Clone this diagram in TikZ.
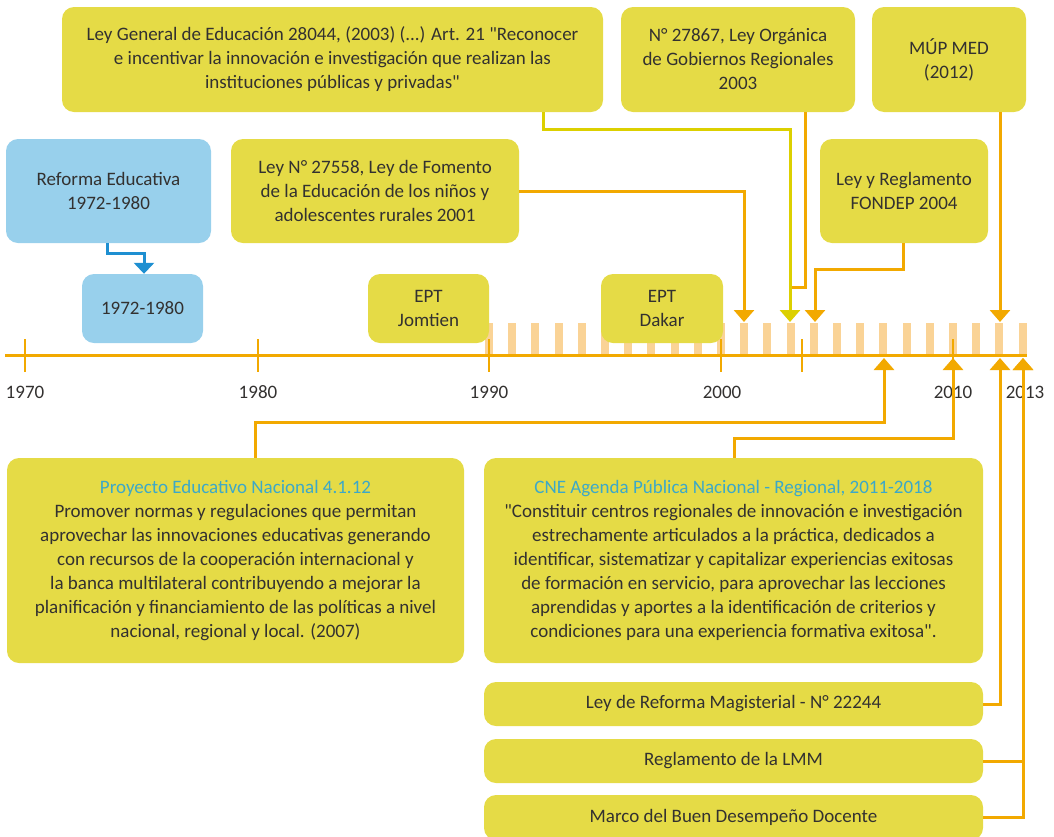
\documentclass[tikz,border=0pt]{standalone}
\usepackage{fontspec}
\setmainfont{Carlito}[Ligatures=TeXOff]
\usetikzlibrary{arrows.meta}
\definecolor{boxy}{HTML}{E5DB46}
\definecolor{boxb}{HTML}{98D0EC}
\definecolor{orl}{HTML}{F2A900}
\definecolor{yel}{HTML}{DCD000}
\definecolor{strp}{HTML}{FAD396}
\definecolor{barr}{HTML}{1E8FD1}
\definecolor{teal}{HTML}{3CA8C8}
\definecolor{txt}{HTML}{333130}
\newcommand\mytxtfont{\fontsize{19}{24}\selectfont}
\begin{document}
\begin{tikzpicture}[x=1pt,y=-1pt,
  box/.style={rounded corners=12pt, fill=boxy, align=center, inner sep=0pt, text=txt, font=\mytxtfont},
  bbox/.style={box, fill=boxb},
  yr/.style={text=txt, font=\mytxtfont, inner sep=0pt},
  axisline/.style={draw=orl, line width=3pt},
  tickline/.style={draw=orl, line width=2.5pt},
  oarr/.style={draw=orl, line width=3pt, -{Triangle[width=20pt,length=12pt]}},
  oconn/.style={draw=orl, line width=3pt},
  yarr/.style={draw=yel, line width=3pt, -{Triangle[width=20pt,length=12pt]}},
  barrow/.style={draw=barr, line width=3pt, -{Triangle[width=20pt,length=11pt]}}]
\useasboundingbox (0,0) rectangle (1054,836);
% stripes
\foreach \yy in {1990,...,2013}{
  \fill[strp] ({25+(\yy-1970)*23.2-4},323) rectangle ({25+(\yy-1970)*23.2+4},355);
}
% axis
\draw[axisline] (5,355) -- (1027,355);
\foreach \xx in {25,258,489,721,802,953}{
  \draw[tickline] (\xx,339) -- (\xx,372);
}
\node[yr] (y1970) at (25,392) {1970};
\node[yr] (y1980) at (258,392) {1980};
\node[yr] (y1990) at (489,392) {1990};
\node[yr] (y2000) at (722,392) {2000};
\node[yr] (y2010) at (953,392) {2010};
\node[yr] (y2013) at (1025,392) {2013};
% boxes
\node[box, minimum width=541pt, minimum height=105pt] (lge) at (332.5,59.5)
  {Ley General de Educación 28044, (2003) (...) Art. 21 "Reconocer\\ e incentivar la innovación e investigación que realizan las\\ instituciones públicas y privadas"};
\node[box, minimum width=234pt, minimum height=105pt] (b27867) at (738,59.5)
  {N° 27867, Ley Orgánica\\ de Gobiernos Regionales\\ 2003};
\node[box, minimum width=154pt, minimum height=105pt] (bmup) at (949,59.5)
  {MÚP MED\\ (2012)};
\node[bbox, minimum width=205pt, minimum height=104pt] (bref) at (108.5,191)
  {Reforma Educativa\\ 1972-1980};
\node[box, minimum width=288pt, minimum height=104pt] (b27558) at (375,191)
  {Ley N° 27558, Ley de Fomento\\ de la Educación de los niños y\\ adolescentes rurales 2001};
\node[box, minimum width=168pt, minimum height=104pt] (bfondep) at (904,191)
  {Ley y Reglamento\\ FONDEP 2004};
\node[bbox, minimum width=121pt, minimum height=69pt] (bsmall) at (142.5,308.5)
  {1972-1980};
\node[box, minimum width=121pt, minimum height=69pt] (bjom) at (428.5,308.5)
  {EPT\\ Jomtien};
\node[box, minimum width=122pt, minimum height=69pt] (bdak) at (662,308.5)
  {EPT\\ Dakar};
\node[box, minimum width=457pt, minimum height=205pt] (bpen) at (235.5,560.5)
  {\textcolor{teal}{Proyecto Educativo Nacional 4.1.12}\\ Promover normas y regulaciones que permitan\\ aprovechar las innovaciones educativas generando\\ con recursos de la cooperación internacional y\\ la banca multilateral contribuyendo a mejorar la\\ planificación y financiamiento de las políticas a nivel\\ nacional, regional y local. (2007)};
\node[box, minimum width=499pt, minimum height=205pt] (bcne) at (733.5,560.5)
  {\textcolor{teal}{CNE Agenda Pública Nacional - Regional, 2011-2018}\\ "Constituir centros regionales de innovación e investigación\\ estrechamente articulados a la práctica, dedicados a\\ identificar, sistematizar y capitalizar experiencias exitosas\\ de formación en servicio, para aprovechar las lecciones\\ aprendidas y aportes a la identificación de criterios y\\ condiciones para una experiencia formativa exitosa".};
\node[box, minimum width=499pt, minimum height=44pt] (bley) at (733.5,704)
  {Ley de Reforma Magisterial - N° 22244};
\node[box, minimum width=499pt, minimum height=44pt] (breg) at (733.5,761)
  {Reglamento de la LMM};
\node[box, minimum width=499pt, minimum height=45pt] (bmarco) at (733.5,817.5)
  {Marco del Buen Desempeño Docente};
% arrow targets
\coordinate (t2001) at (744,322);
\coordinate (t2003) at (790,322);
\coordinate (t2004) at (815,322);
\coordinate (t2012) at (1000,322);
\coordinate (j2003) at (790,287);
\coordinate (u2007) at (884,358);
\coordinate (u2010) at (953,358);
\coordinate (u2012) at (1000,358);
\coordinate (u2013) at (1023,358);
% connectors
\draw[barrow] (bref.south -| 107,0) |- (144,253) -- (bsmall.north -| 144,0);
\draw[oconn] (b27867.south -| 805,0) |- (j2003);
\draw[yarr] (lge.south -| 543,0) |- (t2003 |- 0,129) -- (t2003);
\draw[oarr] (b27558.east) -| (t2001);
\draw[oarr] (bfondep.south -| 903,0) |- (t2004 |- 0,269) -- (t2004);
\draw[oarr] (bmup.south -| t2012) -- (t2012);
\draw[oarr] (bpen.north -| 255,0) |- (u2007 |- 0,422) -- (u2007);
\draw[oarr] (bcne.north -| 734,0) |- (u2010 |- 0,438) -- (u2010);
\draw[oarr] (bley.east) -| (u2012);
\draw[oarr] (breg.east) -| (u2013);
\draw[oarr] (bmarco.east) -| (u2013);
\end{tikzpicture}
\end{document}
